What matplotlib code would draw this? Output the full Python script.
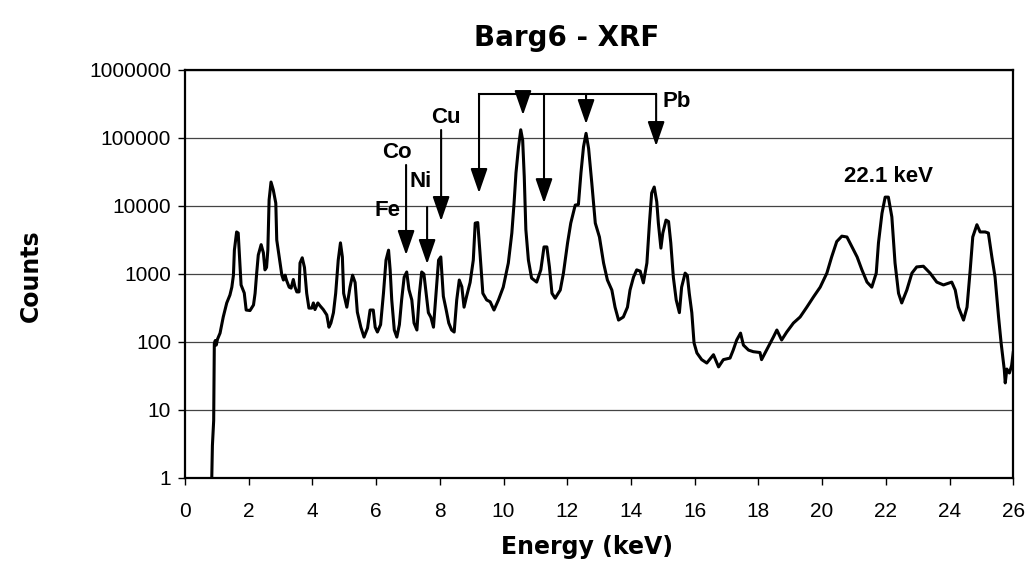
import matplotlib.pyplot as plt
from matplotlib.ticker import FixedLocator, FixedFormatter

# spectrum (energy in keV, counts)
energy = [0.84, 0.86, 0.90, 0.92, 0.95, 0.98, 1.02, 1.10, 1.20, 1.31, 1.41, 1.47, 1.52, 1.55, 1.62,
          1.67, 1.71, 1.76, 1.86, 1.92, 2.04, 2.15, 2.20, 2.25, 2.30, 2.39, 2.46, 2.51, 2.56, 2.60,
          2.64, 2.70, 2.77, 2.85, 2.88, 2.96, 3.04, 3.09, 3.14, 3.19, 3.27, 3.33, 3.40, 3.45, 3.51,
          3.58, 3.61, 3.68, 3.75, 3.82, 3.89, 3.98, 4.03, 4.08, 4.17, 4.24, 4.34, 4.45, 4.52, 4.58,
          4.66, 4.73, 4.81, 4.88, 4.94, 4.98, 5.08, 5.18, 5.26, 5.34, 5.41, 5.52, 5.62, 5.73, 5.81,
          5.91, 5.97, 6.04, 6.14, 6.23, 6.31, 6.39, 6.44, 6.49, 6.57, 6.65, 6.73, 6.80, 6.88, 6.96,
          7.03, 7.12, 7.19, 7.28, 7.36, 7.43, 7.50, 7.57, 7.64, 7.72, 7.80, 7.88, 7.96, 8.03, 8.11,
          8.20, 8.28, 8.37, 8.45, 8.53, 8.61, 8.69, 8.76, 8.84, 8.95, 9.05, 9.11, 9.19, 9.26, 9.35,
          9.47, 9.58, 9.70, 9.84, 9.99, 10.15, 10.26, 10.33, 10.39, 10.47, 10.54, 10.60, 10.65, 10.70,
          10.78, 10.88, 11.04, 11.17, 11.27, 11.36, 11.44, 11.52, 11.62, 11.78, 11.88, 12.01, 12.11,
          12.25, 12.35, 12.43, 12.51, 12.59, 12.67, 12.77, 12.88, 13.01, 13.14, 13.26, 13.40, 13.50,
          13.61, 13.76, 13.89, 13.97, 14.08, 14.18, 14.29, 14.39, 14.50, 14.58, 14.65, 14.73, 14.81,
          14.86, 14.94, 15.00, 15.10, 15.18, 15.25, 15.33, 15.42, 15.52, 15.59, 15.70, 15.77, 15.83,
          15.91, 15.98, 16.07, 16.22, 16.38, 16.59, 16.75, 16.90, 17.11, 17.21, 17.32, 17.44, 17.53,
          17.69, 17.84, 18.05, 18.10, 18.31, 18.47, 18.58, 18.73, 18.89, 19.10, 19.31, 19.52, 19.73,
          19.94, 20.15, 20.30, 20.46, 20.62, 20.78, 20.94, 21.10, 21.25, 21.41, 21.56, 21.70, 21.77,
          21.88, 21.98, 22.08, 22.19, 22.29, 22.40, 22.50, 22.66, 22.82, 22.97, 23.18, 23.39, 23.60,
          23.81, 24.07, 24.18, 24.28, 24.44, 24.55, 24.65, 24.73, 24.86, 24.96, 25.12, 25.22, 25.33,
          25.43, 25.54, 25.62, 25.72, 25.75, 25.80, 25.88, 25.95, 26.00]
counts = [1, 3, 7, 95, 105, 90, 110, 135, 233, 375, 490, 640, 960, 2240, 4150,
          4000, 1780, 690, 525, 295, 290, 350, 520, 1030, 1900, 2700, 2050, 1150, 1250, 2240,
          12300, 22500, 17300, 11000, 3160, 1730, 960, 815, 960, 800, 640, 620, 830, 650, 545,
          545, 1450, 1730, 1250, 520, 315, 315, 375, 300, 375, 340, 300, 250, 165, 190,
          270, 520, 1600, 2870, 1780, 520, 325, 640, 960, 750, 275, 165, 118, 160, 295,
          295, 165, 140, 180, 520, 1600, 2240, 1150, 415, 150, 118, 180, 415, 900, 1070,
          590, 415, 190, 150, 520, 1070, 1000, 520, 270, 230, 165, 520, 1600, 1780, 470,
          295, 190, 150, 140, 415, 815, 650, 325, 470, 750, 1600, 5600, 5700, 2050, 520,
          415, 390, 295, 415, 640, 1450, 4000, 11000, 30700, 74000, 132000, 93000, 27000, 4500,
          1600, 870, 760, 1150, 2500, 2500, 1270, 520, 440, 580, 1030, 2870, 5600,
          10300, 10500, 30700, 74000, 117000, 70000, 21800, 5600, 3500, 1450, 815, 580, 325,
          210, 233, 325, 580, 900, 1150, 1100, 740, 1450, 5600, 15500, 19000, 11500,
          5600, 2400, 4000, 6200, 5900, 2870, 900, 415, 270, 640, 1030, 950, 520,
          270, 97, 69, 55, 49, 65, 43, 55, 58, 76, 107, 135, 90,
          76, 72, 70, 55, 85, 118, 150, 107, 140, 190, 233, 325, 460,
          640, 1030, 1780, 3000, 3600, 3500, 2500, 1780, 1150, 760, 640, 1030, 2870,
          7800, 13500, 13500, 6900, 1450, 520, 375, 580, 1030, 1270, 1300, 1030, 760,
          690, 760, 580, 325, 210, 325, 1150, 3500, 5300, 4150, 4150, 4000, 1780,
          900, 233, 97, 39, 25, 40, 35, 45, 70]

x_ticks = list(range(0, 27, 2))
y_ticks = [1, 10, 100, 1000, 10000, 100000, 1000000]
y_labels = ['1', '10', '100', '1000', '10000', '100000', '1000000']

# element markers: (label, label energy, label counts, arrow energy, arrow top, arrow tip)
elements = [('Co', 6.66, 62000, 6.94, 40100, 1900),
            ('Ni', 7.41, 23300, 7.60, 9670, 1400),
            ('Fe', 6.37, 8700, None, None, None),
            ('Cu', 8.18, 200000, 8.04, 131000, 6000)]
pb_energy = [9.23, 10.61, 11.27, 12.59, 14.79]
pb_tip = [15500, 217000, 11000, 160000, 76000]
pb_bar = 444000

plt.rcParams['font.family'] = ['Liberation Sans', 'DejaVu Sans']

fig = plt.figure(figsize=(10.25, 5.63), dpi=100)
ax = fig.add_axes([0.1805, 0.151, 0.808, 0.7247])

ax.plot(energy, counts, color='black', lw=2.2)

ax.set_yscale('log')
ax.set_xlim(0, 26)
ax.set_ylim(1, 1000000)
ax.yaxis.set_major_locator(FixedLocator(y_ticks))
ax.yaxis.set_major_formatter(FixedFormatter(y_labels))
ax.yaxis.set_minor_locator(FixedLocator([]))
ax.set_xticks(x_ticks)
ax.grid(True, axis='y', color='#444444', lw=0.9)
ax.set_axisbelow(True)
ax.tick_params(axis='both', direction='out', length=5, width=1, labelsize=15)
ax.tick_params(axis='x', pad=12)
ax.tick_params(axis='y', pad=5)
for s in ax.spines.values():
    s.set_linewidth(1.6)

arrow = dict(arrowstyle='-|>,head_length=0.75,head_width=0.26', color='black',
             lw=1.5, shrinkA=0, shrinkB=0, mutation_scale=20)

for name, lx, ly, axx, top, tip in elements:
    ax.text(lx, ly, name, fontsize=16, fontweight='bold', ha='center', va='center')
    if axx is not None:
        ax.annotate('', xy=(axx, tip), xytext=(axx, top), arrowprops=arrow)

ax.plot([pb_energy[0], pb_energy[-1]], [pb_bar, pb_bar], color='black', lw=1.5)
for e, t in zip(pb_energy, pb_tip):
    ax.annotate('', xy=(e, t), xytext=(e, pb_bar), arrowprops=arrow)
ax.text(15.45, 339000, 'Pb', fontsize=16, fontweight='bold', ha='center', va='center')
ax.text(22.07, 26700, '22.1 keV', fontsize=16, fontweight='bold', ha='center', va='center')

fig.text(0.553, 0.932, 'Barg6 - XRF', fontsize=20, fontweight='bold',
         ha='center', va='center', family='DejaVu Sans')
fig.text(0.573, 0.028, 'Energy (keV)', fontsize=17, fontweight='bold',
         ha='center', va='center', family='DejaVu Sans')
fig.text(0.03, 0.51, 'Counts', fontsize=17, fontweight='bold', rotation=90,
         ha='center', va='center', family='DejaVu Sans')

fig.savefig('out.png', dpi=100)
